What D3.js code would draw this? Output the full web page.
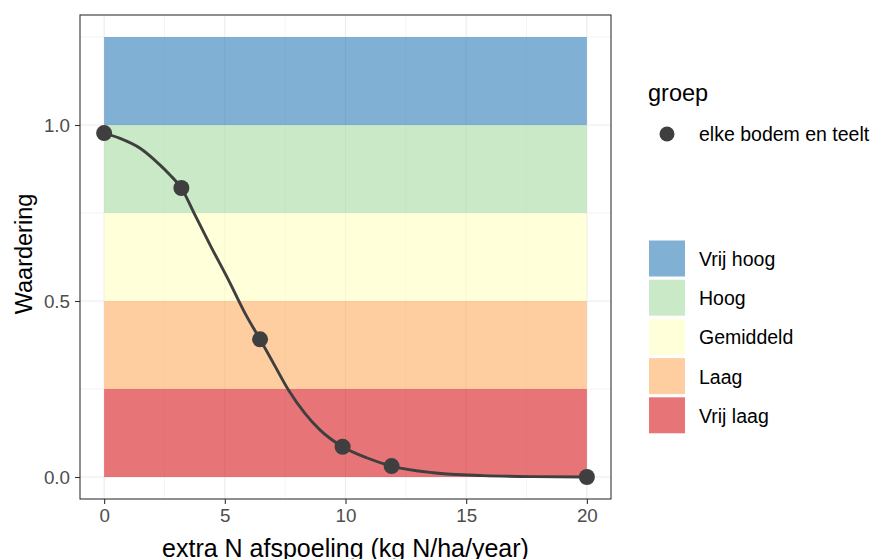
<!DOCTYPE html>
<html>
<head>
<meta charset="utf-8">
<script src="https://cdn.jsdelivr.net/npm/d3@7"></script>
<style>
  html, body { margin: 0; padding: 0; background: #fff; }
  svg { display: block; font-family: "Liberation Sans", Arial, sans-serif; }
</style>
</head>
<body>
<svg id="chart" width="874" height="559"></svg>
<script>
// ---- data ----
const xTicks = [0, 5, 10, 15, 20];
const xMinorTicks = [2.5, 7.5, 12.5, 17.5];
const yTicks = [0, 0.5, 1.0];
const yMinorTicks = [0.25, 0.75, 1.25];

const pointX = [0, 3.2, 6.46, 9.88, 11.91, 20];
const pointY = [0.977, 0.821, 0.391, 0.086, 0.031, 0.0];

const curveX = [0, 0.66, 1.49, 2.32, 2.73, 3.2, 3.73, 4.43, 5.15, 5.84, 6.46, 7.04, 7.63, 8.32, 8.94, 9.88, 10.9, 11.91, 13.64, 15.71, 17.78, 20];
const curveY = [0.977, 0.962, 0.934, 0.886, 0.858, 0.821, 0.749, 0.654, 0.560, 0.465, 0.391, 0.320, 0.248, 0.181, 0.134, 0.086, 0.054, 0.031, 0.012, 0.004, 0.001, 0.0];

const bandLabels = ["Vrij hoog", "Hoog", "Gemiddeld", "Laag", "Vrij laag"];
const bandLower = [1.0, 0.75, 0.5, 0.25, 0.0];
const bandUpper = [1.25, 1.0, 0.75, 0.5, 0.25];
const bandColors = ["#2c7bb6", "#a6dba0", "#ffffbf", "#fdae61", "#d7191c"];
const bandXStart = 0, bandXEnd = 20;

const groupLabel = "elke bodem en teelt";
const legendTitle = "groep";
const xTitle = "extra N afspoeling (kg N/ha/year)";
const yTitle = "Waardering";

// ---- layout ----
const svg = d3.select("#chart");
const panel = { left: 80, right: 611, top: 15, bottom: 499 };
const x = d3.scaleLinear().domain([-1, 21]).range([panel.left, panel.right]);
const y = d3.scaleLinear().domain([-0.0625, 1.3125]).range([panel.bottom, panel.top]);

const gridColor = "#EBEBEB";
const inkColor = "#3f3f3f";

// panel background
svg.append("rect")
  .attr("x", panel.left).attr("y", panel.top)
  .attr("width", panel.right - panel.left).attr("height", panel.bottom - panel.top)
  .attr("fill", "#fff");

// grid
const grid = svg.append("g");
grid.selectAll(".xminor").data(xMinorTicks).join("line")
  .attr("x1", d => x(d)).attr("x2", d => x(d))
  .attr("y1", panel.top).attr("y2", panel.bottom)
  .attr("stroke", gridColor).attr("stroke-width", 0.55);
grid.selectAll(".yminor").data(yMinorTicks).join("line")
  .attr("y1", d => y(d)).attr("y2", d => y(d))
  .attr("x1", panel.left).attr("x2", panel.right)
  .attr("stroke", gridColor).attr("stroke-width", 0.55);
grid.selectAll(".xmajor").data(xTicks).join("line")
  .attr("x1", d => x(d)).attr("x2", d => x(d))
  .attr("y1", panel.top).attr("y2", panel.bottom)
  .attr("stroke", gridColor).attr("stroke-width", 1.1);
grid.selectAll(".ymajor").data(yTicks).join("line")
  .attr("y1", d => y(d)).attr("y2", d => y(d))
  .attr("x1", panel.left).attr("x2", panel.right)
  .attr("stroke", gridColor).attr("stroke-width", 1.1);

// bands
svg.append("g").selectAll("rect").data(bandLabels).join("rect")
  .attr("x", x(bandXStart))
  .attr("width", x(bandXEnd) - x(bandXStart))
  .attr("y", (d, i) => y(bandUpper[i]))
  .attr("height", (d, i) => y(bandLower[i]) - y(bandUpper[i]))
  .attr("fill", (d, i) => bandColors[i])
  .attr("fill-opacity", 0.6);

// curve
const curvePts = curveX.map((v, i) => [v, curveY[i]]);
svg.append("path")
  .datum(curvePts)
  .attr("d", d3.line().x(d => x(d[0])).y(d => y(d[1])).curve(d3.curveMonotoneX))
  .attr("fill", "none")
  .attr("stroke", inkColor)
  .attr("stroke-width", 2.9)
  .attr("stroke-linecap", "butt");

// points
svg.append("g").selectAll("circle").data(pointX).join("circle")
  .attr("cx", d => x(d))
  .attr("cy", (d, i) => y(pointY[i]))
  .attr("r", 8)
  .attr("fill", inkColor);

// panel border
svg.append("rect")
  .attr("x", panel.left).attr("y", panel.top)
  .attr("width", panel.right - panel.left).attr("height", panel.bottom - panel.top)
  .attr("fill", "none").attr("stroke", "#333333").attr("stroke-width", 1.1);

// axes
const xAxis = svg.append("g")
  .attr("transform", `translate(0,${panel.bottom})`)
  .call(d3.axisBottom(x).tickValues(xTicks).tickFormat(d3.format("d")).tickSize(5).tickPadding(5));
const yAxis = svg.append("g")
  .attr("transform", `translate(${panel.left},0)`)
  .call(d3.axisLeft(y).tickValues(yTicks).tickFormat(d3.format(".1f")).tickSize(5).tickPadding(5));
[xAxis, yAxis].forEach(g => {
  g.select(".domain").remove();
  g.selectAll(".tick line").attr("stroke", "#333333").attr("stroke-width", 1.1);
  g.selectAll(".tick text")
    .attr("fill", "#4D4D4D")
    .style("font-size", "18.8px")
    .style("font-family", '"Liberation Sans", Arial, sans-serif');
});
xAxis.selectAll(".tick text").attr("dy", "0.71em");

// axis titles
svg.append("text")
  .attr("x", (panel.left + panel.right) / 2)
  .attr("y", 557)
  .attr("text-anchor", "middle")
  .attr("fill", "#000")
  .style("font-size", "25px")
  .text(xTitle);
svg.append("text")
  .attr("transform", `translate(32,254) rotate(-90)`)
  .attr("text-anchor", "middle")
  .attr("fill", "#000")
  .style("font-size", "23.5px")
  .text(yTitle);

// legend: group
const lg = svg.append("g");
lg.append("text")
  .attr("x", 648).attr("y", 101)
  .attr("fill", "#000")
  .style("font-size", "23.5px")
  .text(legendTitle);
lg.append("circle")
  .attr("cx", 667).attr("cy", 134).attr("r", 7.5)
  .attr("fill", inkColor);
lg.append("text")
  .attr("x", 699).attr("y", 141)
  .attr("fill", "#000")
  .style("font-size", "19.5px")
  .text(groupLabel);

// legend: bands
const keyTop = 240.5, keyStep = 39.2, keySize = 36;
const bl = svg.append("g");
bandLabels.forEach((lab, i) => {
  bl.append("rect")
    .attr("x", 649).attr("y", keyTop + i * keyStep)
    .attr("width", keySize).attr("height", keySize)
    .attr("fill", bandColors[i]).attr("fill-opacity", 0.6);
  bl.append("text")
    .attr("x", 699).attr("y", keyTop + i * keyStep + keySize / 2 + 7.5)
    .attr("fill", "#000")
    .style("font-size", "19.5px")
    .text(lab);
});
</script>
</body>
</html>
